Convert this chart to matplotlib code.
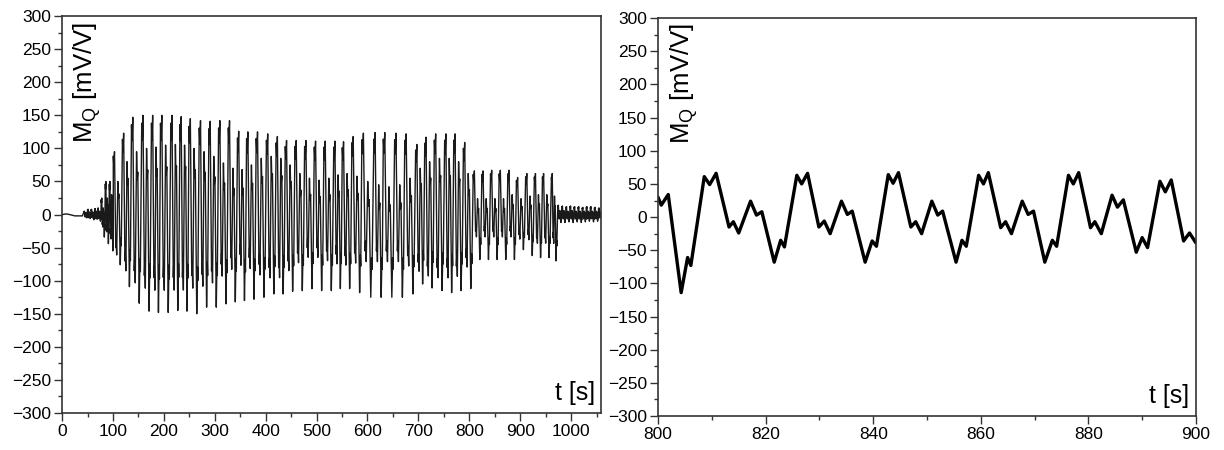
import numpy as np
import matplotlib.pyplot as plt
from matplotlib.ticker import MultipleLocator

plt.rcParams['font.family'] = ['Liberation Sans', 'DejaVu Sans']

# left panel: quiet start (t, value)
lead_t = [0, 8, 15, 25, 40]
lead_v = [0, 1, 0, -2, -2]

# left panel: one entry per oscillation cycle
# time of the top spike, top spike, bottom spike, inner (grey) high, inner low
cyc_t = [44, 51, 58, 65, 71, 78, 86, 94, 103, 121, 139, 159, 178, 196, 216, 234,
         252, 272, 291, 310, 329, 347, 365, 384, 404, 423, 441, 460, 479, 498,
         517, 536, 553, 572, 592, 615, 634, 656, 676, 697, 715, 734, 754, 772,
         791, 810, 827, 844, 861, 878, 895, 913, 930, 946, 963, 975, 983, 991,
         999, 1007, 1015, 1023, 1031, 1039, 1047, 1055]
cyc_top = [5, 8, 8, 9, 10, 25, 50, 50, 95, 123, 147, 150, 150, 150, 150, 148,
           145, 142, 141, 142, 142, 126, 125, 125, 122, 118, 112, 112, 112, 111,
           111, 111, 110, 118, 123, 124, 124, 123, 122, 106, 117, 122, 122, 122,
           109, 66, 66, 67, 67, 67, 56, 62, 62, 62, 62, 14, 13, 12, 13, 12,
           12, 11, 12, 12, 11, 10]
cyc_bot = [-5, -6, -8, -7, -10, -34, -44, -55, -76, -109, -134, -146, -148, -148,
           -145, -146, -150, -140, -140, -135, -132, -130, -128, -125, -120, -120,
           -116, -115, -112, -115, -115, -112, -112, -118, -125, -125, -125, -125,
           -120, -105, -111, -115, -118, -115, -112, -68, -68, -68, -68, -68, -53,
           -62, -65, -65, -70, -12, -12, -11, -12, -11, -12, -11, -10, -11, -10, -8]
cyc_hi = [3, 4, 4, 5, 5, 10, 25, 30, 50, 80, 95, 100, 102, 105, 106, 105, 100,
          95, 88, 78, 70, 68, 75, 85, 88, 85, 75, 62, 55, 52, 55, 60, 62, 58, 50,
          45, 42, 45, 55, 70, 80, 85, 85, 80, 62, 24, 24, 24, 24, 30, 24, 28, 30,
          30, 28, 6, 6, 5, 6, 5, 5, 5, 5, 5, 5, 4]
cyc_lo = [-3, -4, -4, -5, -5, -15, -20, -30, -50, -70, -85, -92, -95, -95, -95,
          -95, -92, -90, -85, -75, -65, -60, -65, -75, -80, -80, -70, -58, -50,
          -50, -55, -60, -62, -58, -55, -55, -55, -55, -62, -72, -78, -80, -80,
          -78, -65, -25, -25, -25, -25, -25, -30, -30, -35, -35, -35, -5, -5, -5,
          -5, -5, -5, -5, -5, -5, -5, -4]
end_t = [1058]
end_v = [3]

# shape of one cycle (phase, ripple size / amplitude)
shape_ph = [0.00, 0.06, 0.13, 0.27, 0.31, 0.37, 0.50, 0.56, 0.62, 0.76, 0.83, 0.87]
shape_off = [-0.08, -0.25, 0.0, 0.0, 0.12, -0.13, 0.0, -0.30, -0.22, 0.0, 0.48, 0.34]
shape_key = ['top', 'top', 'top', 'lo', 'lo', 'lo', 'hi', 'hi', 'hi', 'bot', 'bot', 'bot']

# right panel: turning points of the trace between 800 and 900 s
r_t = [800.0, 800.6, 801.9, 804.3, 805.5, 806.1, 808.6, 809.6, 810.8, 813.2,
       814.0, 815.0, 817.2, 818.3, 819.3, 821.6, 822.8, 823.5, 825.8, 826.7,
       827.8, 829.9, 830.9, 832.0, 834.1, 835.2, 836.1, 838.5, 839.8, 840.6,
       842.8, 843.7, 844.7, 847.0, 847.9, 849.0, 850.9, 852.0, 852.9, 855.4,
       856.5, 857.3, 859.6, 860.5, 861.4, 863.7, 864.6, 865.7, 867.7, 868.8,
       869.8, 871.9, 873.3, 874.1, 876.3, 877.2, 878.2, 880.4, 881.2, 882.4,
       884.4, 885.4, 886.5, 888.9, 890.0, 891.0, 893.3, 894.3, 895.4, 897.7,
       898.8, 900.0]
r_v = [30, 18, 34, -114, -61, -73, 61, 49, 66, -15, -7, -24, 24, 3, 8, -68, -35,
       -45, 63, 50, 66, -15, -6, -25, 24, 4, 9, -68, -36, -44, 64, 51, 67, -15,
       -7, -25, 24, 3, 9, -68, -35, -44, 63, 50, 67, -16, -7, -25, 24, 4, 9, -68,
       -35, -44, 63, 50, 67, -16, -7, -25, 33, 15, 26, -53, -31, -46, 54, 38, 56,
       -36, -24, -39]

# build the left trace from the cycle values
lt = list(lead_t)
lv = list(lead_v)
for i in range(len(cyc_t)):
    if i + 1 < len(cyc_t):
        p = cyc_t[i + 1] - cyc_t[i]
    else:
        p = cyc_t[i] - cyc_t[i - 1]
    lev = {'top': cyc_top[i], 'bot': cyc_bot[i], 'hi': cyc_hi[i], 'lo': cyc_lo[i]}
    a = (cyc_top[i] - cyc_bot[i]) / 2
    t0 = cyc_t[i] - 0.13 * p
    for ph, off, k in zip(shape_ph, shape_off, shape_key):
        lt.append(t0 + ph * p)
        lv.append(lev[k] + off * a)
lt += end_t
lv += end_v

fig = plt.figure(figsize=(12.24, 4.5), dpi=100)
ax1 = fig.add_axes([0.0507, 0.0822, 0.4404, 0.882])
ax2 = fig.add_axes([0.5376, 0.0756, 0.4395, 0.884])

ax1.plot(lt, lv, color='#1a1a1a', lw=1.0)
ax2.plot(r_t, r_v, color='black', lw=2.4, solid_joinstyle='round',
         solid_capstyle='round')

ax1.set_xlim(0, 1059)
ax2.set_xlim(800, 900)
ax1.xaxis.set_major_locator(MultipleLocator(100))
ax1.xaxis.set_minor_locator(MultipleLocator(50))
ax2.xaxis.set_major_locator(MultipleLocator(20))
ax2.xaxis.set_minor_locator(MultipleLocator(10))

for ax, lx, ly in [(ax1, 0.046, 0.985), (ax2, 0.048, 0.987)]:
    ax.set_ylim(-300, 300)
    ax.yaxis.set_major_locator(MultipleLocator(50))
    ax.yaxis.set_minor_locator(MultipleLocator(25))
    ax.tick_params(which='major', direction='out', length=6, width=1,
                   labelsize=12.5, color='#333333', pad=2)
    ax.tick_params(which='minor', direction='out', length=3, width=1,
                   color='#333333')
    for s in ax.spines.values():
        s.set_color('#333333')
        s.set_linewidth(1.2)
    ax.text(lx, ly, r'M$_\mathregular{Q}$ [mV/V]', transform=ax.transAxes,
            rotation=90, ha='center', va='top', fontsize=18.5)
    ax.text(0.988, 0.02, 't [s]', transform=ax.transAxes, ha='right',
            va='bottom', fontsize=18)

fig.savefig('out.png', dpi=100)
